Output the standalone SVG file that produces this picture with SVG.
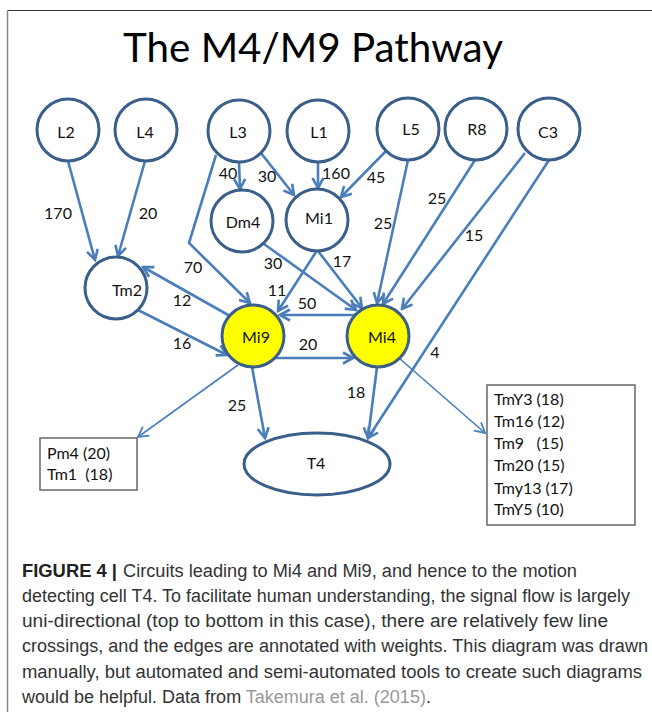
<svg xmlns="http://www.w3.org/2000/svg" width="652" height="712" viewBox="0 0 652 712">
<defs>
<style>
.n{fill:#fff;stroke:#3a5f8b;stroke-width:3}
.y{fill:#ffff00;stroke:#3a5f8b;stroke-width:3}
.t{font-family:Lato,"Open Sans",sans-serif;font-size:16px;fill:#111}
.lbl{font-family:Lato,"Open Sans",sans-serif;font-size:16px;fill:#111;text-anchor:middle}
.e{fill:none;stroke:#4a7ebb;stroke-width:2.6;marker-end:url(#ah)}
.thin{fill:none;stroke:#4a7ebb;stroke-width:1.6;marker-end:url(#ah2)}
.box{fill:#fff;stroke:#666;stroke-width:1.5}
.cap{font-family:"Liberation Sans",Arial,sans-serif;font-size:18px;fill:#333}
</style>
<marker id="ah" markerUnits="userSpaceOnUse" viewBox="0 0 14 14" markerWidth="14" markerHeight="14" refX="12" refY="7" orient="auto">
<path d="M2,1.5 L12,7 L2,12.5" fill="none" stroke="#4a7ebb" stroke-width="2.6"/>
</marker>
<marker id="ah2" markerUnits="userSpaceOnUse" viewBox="0 0 14 14" markerWidth="14" markerHeight="14" refX="12" refY="7" orient="auto">
<path d="M2,1.5 L12,7 L2,12.5" fill="none" stroke="#4a7ebb" stroke-width="1.8"/>
</marker>
</defs>
<rect width="652" height="712" fill="#fff"/>
<g id="frame">
<line x1="7" y1="10.5" x2="652" y2="10.5" stroke="#333" stroke-width="1.2"/>
<line x1="7.5" y1="10" x2="7.5" y2="712" stroke="#888" stroke-width="1.5"/>
</g>
<text id="title" x="123" y="62" font-family="Lato,'Open Sans',sans-serif" font-size="40" fill="#000" textLength="380" lengthAdjust="spacingAndGlyphs">The M4/M9 Pathway</text>

<g id="connectors">
<line class="e" x1="68" y1="161" x2="95" y2="260"/>
<line class="e" x1="145" y1="161" x2="118" y2="256"/>
<line class="e" x1="239" y1="162" x2="240" y2="189"/>
<line class="e" x1="261" y1="153" x2="294" y2="195"/>
<line class="e" x1="318" y1="162" x2="318" y2="188"/>
<line class="e" x1="386" y1="151" x2="341" y2="197"/>
<line class="e" x1="408" y1="160" x2="377" y2="303"/>
<line class="e" x1="475" y1="160" x2="383" y2="304"/>
<line class="e" x1="525" y1="153" x2="402" y2="309"/>
<line class="e" x1="549" y1="160" x2="368" y2="438"/>
<polyline class="e" points="216,155 189,243 250,303"/>
<line class="e" x1="264" y1="244" x2="356" y2="310"/>
<line class="e" x1="318" y1="251" x2="362" y2="308"/>
<line class="e" x1="316" y1="252" x2="278" y2="311"/>
<line class="e" x1="355" y1="315" x2="280" y2="315"/>
<line class="e" x1="276" y1="358" x2="353" y2="358"/>
<line class="e" x1="230" y1="316" x2="143" y2="267"/>
<line class="e" x1="138" y1="310" x2="227" y2="355"/>
<line class="e" x1="252" y1="367" x2="265" y2="438"/>
<line class="thin" x1="238" y1="365" x2="138" y2="437"/>
<line class="e" x1="377" y1="367" x2="368" y2="438"/>
<line class="thin" x1="399" y1="358" x2="485" y2="433"/>
</g>

<g id="edge-labels" class="lbl">
<text x="58" y="219">170</text>
<text x="148" y="219">20</text>
<text x="228" y="179">40</text>
<text x="267" y="182">30</text>
<text x="336" y="179">160</text>
<text x="376" y="183">45</text>
<text x="383" y="229">25</text>
<text x="437" y="204">25</text>
<text x="474" y="241">15</text>
<text x="435" y="358">4</text>
<text x="193" y="273">70</text>
<text x="273" y="269">30</text>
<text x="342" y="267">17</text>
<text x="277" y="296">11</text>
<text x="307" y="309">50</text>
<text x="308" y="350">20</text>
<text x="182" y="306">12</text>
<text x="182" y="349">16</text>
<text x="237" y="411">25</text>
<text x="356" y="398">18</text>
</g>

<g id="L2"><circle class="n" cx="68" cy="130" r="31"/><text class="lbl" x="66" y="138">L2</text></g>
<g id="L4"><circle class="n" cx="146" cy="130" r="31"/><text class="lbl" x="145" y="138">L4</text></g>
<g id="L3"><circle class="n" cx="239" cy="131" r="31"/><text class="lbl" x="238" y="138">L3</text></g>
<g id="L1"><circle class="n" cx="318" cy="131" r="31"/><text class="lbl" x="319" y="138">L1</text></g>
<g id="L5"><circle class="n" cx="408" cy="129" r="31"/><text class="lbl" x="411" y="135">L5</text></g>
<g id="R8"><circle class="n" cx="476" cy="129" r="31"/><text class="lbl" x="477" y="135">R8</text></g>
<g id="C3"><circle class="n" cx="549" cy="129" r="31"/><text class="lbl" x="548" y="138">C3</text></g>
<g id="Dm4"><circle class="n" cx="242" cy="221" r="31"/><text class="lbl" x="243" y="228">Dm4</text></g>
<g id="Mi1"><circle class="n" cx="317" cy="220" r="31"/><text class="lbl" x="319" y="224">Mi1</text></g>
<g id="Tm2"><circle class="n" cx="116" cy="288" r="31"/><text class="lbl" x="127" y="296">Tm2</text></g>
<g id="Mi9"><circle class="y" cx="253" cy="336" r="31"/><text class="lbl" x="256" y="343">Mi9</text></g>
<g id="Mi4"><circle class="y" cx="378" cy="336" r="31"/><text class="lbl" x="382" y="343">Mi4</text></g>
<g id="T4"><ellipse class="n" cx="317" cy="464" rx="73" ry="31"/><text class="lbl" x="316" y="469">T4</text></g>

<g id="box-left">
<rect class="box" x="40" y="438" width="97" height="52"/>
<text class="t" x="47" y="459">Pm4 (20)</text>
<text class="t" x="47" y="480" xml:space="preserve">Tm1  (18)</text>
</g>
<g id="box-right">
<rect class="box" x="487" y="385" width="148" height="140"/>
<text class="t" x="494" y="405">TmY3 (18)</text>
<text class="t" x="494" y="427">Tm16 (12)</text>
<text class="t" x="494" y="449" xml:space="preserve">Tm9   (15)</text>
<text class="t" x="494" y="471">Tm20 (15)</text>
<text class="t" x="494" y="494">Tmy13 (17)</text>
<text class="t" x="494" y="515">TmY5 (10)</text>
</g>

<g id="caption" class="cap">
<text x="22" y="577" font-weight="bold" fill="#222" textLength="95" lengthAdjust="spacingAndGlyphs">FIGURE 4 |</text>
<text x="123" y="577" textLength="454" lengthAdjust="spacingAndGlyphs">Circuits leading to Mi4 and Mi9, and hence to the motion</text>
<text x="22" y="602" textLength="608" lengthAdjust="spacingAndGlyphs">detecting cell T4. To facilitate human understanding, the signal flow is largely</text>
<text x="22" y="627" textLength="586" lengthAdjust="spacingAndGlyphs">uni-directional (top to bottom in this case), there are relatively few line</text>
<text x="22" y="652" textLength="626" lengthAdjust="spacingAndGlyphs">crossings, and the edges are annotated with weights. This diagram was drawn</text>
<text x="22" y="678" textLength="620" lengthAdjust="spacingAndGlyphs">manually, but automated and semi-automated tools to create such diagrams</text>
<text x="22" y="703">would be helpful. Data from <tspan fill="#999">Takemura et al. (2015)</tspan>.</text>
</g>
</svg>
